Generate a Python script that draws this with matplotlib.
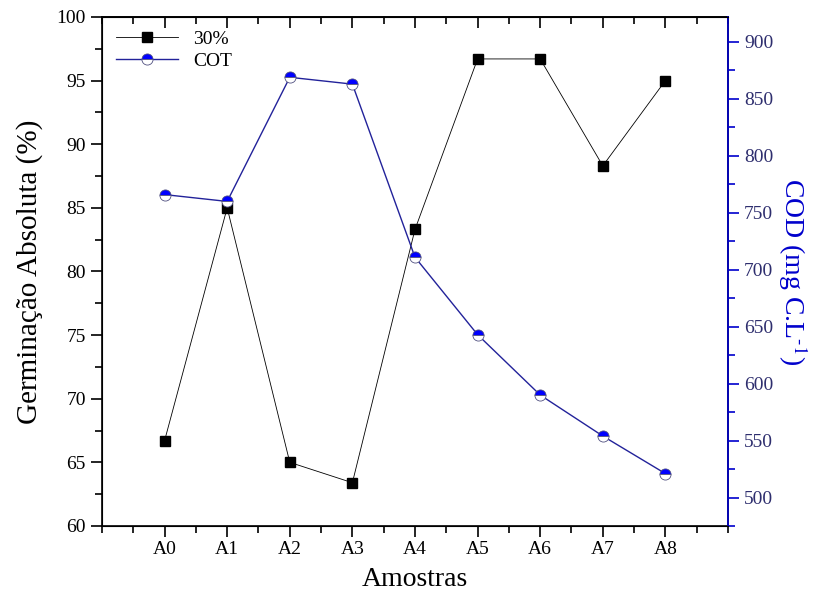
import matplotlib
matplotlib.use("Agg")
import matplotlib.pyplot as plt
from matplotlib.ticker import MultipleLocator

amostras = ["A0", "A1", "A2", "A3", "A4", "A5", "A6", "A7", "A8"]
germ_30 = [66.7, 85.0, 65.0, 63.4, 83.3, 96.7, 96.7, 88.3, 95.0]
cot = [766, 760, 869, 863, 711, 643, 590, 554, 521]


def main():
        plt.rcParams['font.family'] = ['Liberation Serif', 'DejaVu Serif']
        plt.rcParams['mathtext.fontset'] = 'stix'

        fig = plt.figure(figsize=(8.19, 6.05), dpi=100)
        ax = fig.add_axes([0.1245, 0.1306, 0.7644, 0.8414])
        ax2 = ax.twinx()

        x = list(range(len(amostras)))

        # germinacao (left axis)
        l1, = ax.plot(x, germ_30, color='black', lw=0.6, marker='s', ms=7,
                      mfc='black', mec='black', label='30%')
        # COT (right axis)
        l2, = ax2.plot(x, cot, color='#22229a', lw=1.0, marker='o', ms=8,
                       fillstyle='top', mfc='#0000ff', mfcalt='white',
                       mec='#505080', mew=0.6, label='COT')

        ax.set_xlim(-1, 9)
        ax.set_ylim(60, 100)
        ax2.set_ylim(475, 922)

        ax.set_xticks(x)
        ax.set_xticklabels(amostras)
        ax.xaxis.set_minor_locator(MultipleLocator(0.5))
        ax.yaxis.set_major_locator(MultipleLocator(5))
        ax.yaxis.set_minor_locator(MultipleLocator(2.5))
        ax2.yaxis.set_minor_locator(MultipleLocator(25))
        ax2.set_yticks(range(500, 901, 50))

        ax.tick_params(axis='x', which='both', direction='out', labelsize=14, pad=3)
        ax.tick_params(axis='x', which='major', length=8, width=1.2)
        ax.tick_params(axis='x', which='minor', length=5, width=1.2)
        ax.tick_params(axis='y', which='major', length=8, width=1.2, labelsize=14)
        ax.tick_params(axis='y', which='minor', length=5, width=1.2)
        ax2.tick_params(axis='y', which='major', length=8, width=1.2,
                        colors='#0000cc', labelcolor='#2e2e6e', labelsize=14)
        ax2.tick_params(axis='y', which='minor', length=5, width=1.2,
                        colors='#0000cc')

        # top ticks pointing inward
        top = ax.secondary_xaxis('top')
        top.set_xticks(x)
        top.xaxis.set_minor_locator(MultipleLocator(0.5))
        top.tick_params(axis='x', which='both', direction='in', labeltop=False, width=1.2)
        top.tick_params(axis='x', which='major', length=8)
        top.tick_params(axis='x', which='minor', length=5)
        top.spines['top'].set_linewidth(1.2)

        for s in ax.spines.values():
                s.set_linewidth(1.2)
        ax2.spines['right'].set_color('#0000cc')
        ax2.spines['right'].set_linewidth(1.2)

        ax.set_xlabel('Amostras', fontsize=20, labelpad=6)
        ax.set_ylabel('Germinação Absoluta (%)', fontsize=21, labelpad=10)
        ax2.set_ylabel('COD (mg C.L$^{\\text{-}1}$)', fontsize=20, color='#0000cc',
                       rotation=270, labelpad=26)

        ax.legend(handles=[l1, l2], loc='upper left', frameon=False,
                  fontsize=14, handlelength=3.2, borderaxespad=0.3,
                  labelspacing=0.2, bbox_to_anchor=(0.0, 1.0))

        fig.savefig('out.png', dpi=100)


if __name__ == "__main__":
        main()
